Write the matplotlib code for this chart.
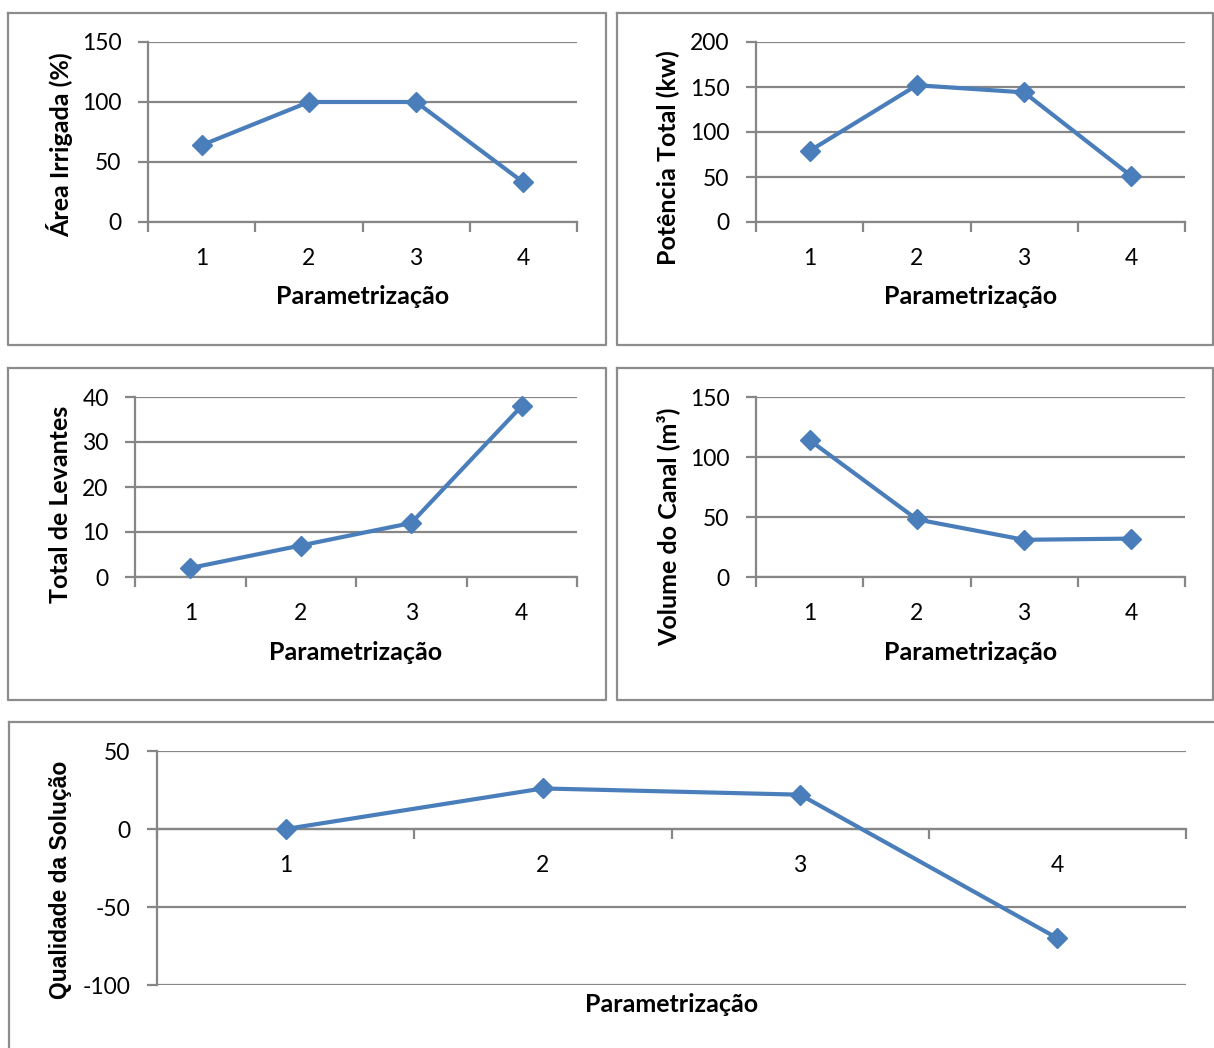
import matplotlib
matplotlib.use('Agg')
import matplotlib.pyplot as plt
from matplotlib.lines import Line2D
from matplotlib.ticker import FixedLocator, FixedFormatter

plt.rcParams['font.family'] = ['Lato', 'DejaVu Sans']

# Data for the five parameterisation runs
parametrizacao = [1, 2, 3, 4]
area_irrigada = [64, 100, 100, 33]
potencia_total = [79, 152, 144, 51]
total_levantes = [2, 7, 12, 38]
volume_canal = [114, 48, 31, 32]
qualidade_solucao = [0, 26, 22, -70]

W, H = 1214, 1048
LINE_BLUE = '#4A7EBB'
GRID_GRAY = '#868686'
BOX_GRAY = '#8C8C8C'

fig = plt.figure(figsize=(W / 100, H / 100), dpi=100)


def fx(x):
    return x / W


def fy(y):
    return 1 - y / H


def draw_box(l, t, r, b):
    # Chart-area frame around each panel
    xs = [fx(l), fx(r), fx(r), fx(l), fx(l)]
    ys = [fy(t), fy(t), fy(b), fy(b), fy(t)]
    fig.add_artist(Line2D(xs, ys, color=BOX_GRAY, lw=1.6, transform=fig.transFigure))


def panel(rect, values, ymin, ymax, step, ylabel, ylabel_xy, xlabel_y,
          ylabel_font=None, ylabel_size=18):
    l, t, r, b = rect
    ax = fig.add_axes([fx(l), fy(b), fx(r) - fx(l), fy(t) - fy(b)])
    ax.plot(parametrizacao, values, color=LINE_BLUE, lw=3.0, marker='D',
            markersize=10, markeredgecolor=LINE_BLUE, zorder=5, clip_on=False)

    ax.set_xlim(0.5, 4.5)
    ax.set_ylim(ymin, ymax)
    yticks = list(range(ymin, ymax + 1, step))
    ax.set_yticks(yticks)
    ax.set_yticklabels([str(v) for v in yticks])
    for v in yticks:
        ax.axhline(v, color=GRID_GRAY, lw=1.6, zorder=1)

    # category labels in the middle, tick marks on the boundaries
    ax.xaxis.set_major_locator(FixedLocator(parametrizacao))
    ax.xaxis.set_major_formatter(FixedFormatter([str(p) for p in parametrizacao]))
    ax.xaxis.set_minor_locator(FixedLocator([0.5, 1.5, 2.5, 3.5, 4.5]))
    ax.tick_params(axis='x', which='major', length=0, pad=19, labelsize=16.5,
                   labelcolor='black')
    ax.tick_params(axis='x', which='minor', length=7, width=1.6,
                   color=GRID_GRAY, direction='out')
    ax.tick_params(axis='y', length=7, width=1.6, color=GRID_GRAY,
                   direction='out', pad=12, labelsize=16.5, labelcolor='black')

    for side in ('top', 'right'):
        ax.spines[side].set_visible(False)
    ax.spines['left'].set_color(GRID_GRAY)
    ax.spines['left'].set_linewidth(1.6)
    ax.spines['bottom'].set_color(GRID_GRAY)
    ax.spines['bottom'].set_linewidth(1.6)
    if ymin < 0:
        ax.spines['bottom'].set_position(('data', 0))

    ax.set_facecolor('none')

    kw = dict(fontweight='bold', fontsize=ylabel_size, va='center')
    if ylabel_font:
        kw['family'] = ylabel_font
    ax.set_ylabel(ylabel, **kw)
    lx, ly = ylabel_xy
    ax.yaxis.set_label_coords((lx - l) / (r - l), (b - ly) / (b - t))
    ax.set_xlabel('Parametrização', fontweight='bold', fontsize=18, va='center')
    ax.xaxis.set_label_coords(0.5, (b - xlabel_y) / (b - t))
    return ax


draw_box(8, 13, 606, 345)
draw_box(617, 13, 1213, 345)
draw_box(8, 368, 606, 700)
draw_box(617, 368, 1213, 700)
draw_box(9, 722, 1216, 1052)

panel((148, 42, 577, 222), area_irrigada, 0, 150, 50,
      'Área Irrigada (%)', (60, 145), 297)
panel((756, 42, 1185, 222), potencia_total, 0, 200, 50,
      'Potência Total (kw)', (668, 158), 297)
panel((135, 397, 577, 577), total_levantes, 0, 40, 10,
      'Total de Levantes', (61, 504), 652)
panel((756, 397, 1185, 577), volume_canal, 0, 150, 50,
      'Volume do Canal (m³)', (668, 527), 652)
panel((157, 751, 1186, 985), qualidade_solucao, -100, 50, 50,
      'Qualidade da Solução', (61, 880), 1005,
      ylabel_font=['Liberation Sans', 'DejaVu Sans'], ylabel_size=16.5)

fig.savefig('out.png', dpi=100, facecolor='white')
